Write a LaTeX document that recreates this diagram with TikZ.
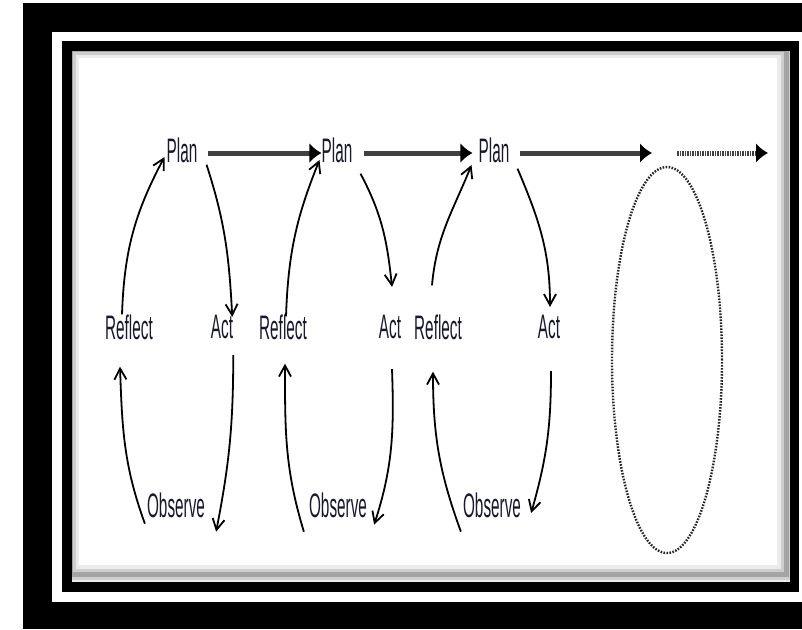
\documentclass[tikz,border=0pt]{standalone}
\usepackage{fontspec}
\usepackage{tikz}
\usetikzlibrary{arrows.meta, positioning}
\newfontfamily\labelfont[FakeStretch=0.45]{Liberation Sans}
\definecolor{ink}{RGB}{25,25,45}

\begin{document}
\begin{tikzpicture}[
    x=1pt, y=1pt, on grid,
    stage/.style={inner sep=0pt, text=ink, font=\labelfont\fontsize{34}{34}\selectfont},
    cyclearrow/.style={-{Straight Barb[length=11pt, width=12pt]}, line width=1.8pt},
    flowarrow/.style={-{Latex[length=12pt, width=20pt, color=black]}, line width=5pt, draw=black!75},
    dotflow/.style={flowarrow, dash pattern=on 1.5pt off 1pt},
    frontier/.style={draw=black!85, line width=2.4pt, dash pattern=on 1.6pt off 1.4pt}
]
\useasboundingbox (0,0) rectangle (802,-629);

% Frame
\fill[black] (23,-3) rectangle (802,-629);
\fill[white] (52,-32) rectangle (802,-602);
\fill[black] (62,-41) rectangle (799,-592);
\fill[white] (72,-51) rectangle (790,-582);
\begin{scope}
    \clip (72,-51) rectangle (790,-582);
    \draw[black, opacity=0.08, line width=18pt] (70,-49) rectangle (786,-574);
    \draw[black, opacity=0.12, line width=11pt] (70,-49) rectangle (786,-574);
    \draw[black, opacity=0.2, line width=5pt] (70,-49) rectangle (786,-574);
\end{scope}

% Nodes
\node[stage] (plan1) at (182,-150) {Plan};
\node[stage, right=155pt of plan1] (plan2) {Plan};
\node[stage, right=157pt of plan2] (plan3) {Plan};
\node[stage, below left=177pt and 53pt of plan1] (refl1) {Reflect};
\node[stage, below left=177pt and 54pt of plan2] (refl2) {Reflect};
\node[stage, below left=177pt and 56pt of plan3] (refl3) {Reflect};
\node[stage, below right=177pt and 40pt of plan1] (act1) {Act};
\node[stage, below right=177pt and 53pt of plan2] (act2) {Act};
\node[stage, below right=177pt and 55pt of plan3] (act3) {Act};
\node[stage, below left=355pt and 6pt of plan1] (obs1) {Observe};
\node[stage, below right=355pt and 1pt of plan2] (obs2) {Observe};
\node[stage, below left=355pt and 2pt of plan3] (obs3) {Observe};
\coordinate (gap) at (652,-153);
\coordinate (beyond) at (677,-153);
\coordinate (edge) at (768,-153);

% Arrows
\draw[flowarrow] ([xshift=10pt, yshift=-3pt]plan1.east) -- ([yshift=-3pt]plan2.west);
\draw[flowarrow] ([xshift=11pt, yshift=-3pt]plan2.east) -- ([xshift=-6pt, yshift=-3pt]plan3.west);
\draw[flowarrow] ([xshift=10pt, yshift=-3pt]plan3.east) -- (gap);
\draw[dotflow] (beyond) -- (edge);

\draw[cyclearrow] ([xshift=-7pt]refl1.north) to[out=88, in=242] ([xshift=-2pt, yshift=-7pt]plan1.west);
\draw[cyclearrow] ([xshift=9pt, yshift=-2pt]plan1.south east) to[out=-72, in=93] ([xshift=-1pt, yshift=-2pt]act1.north east);
\draw[cyclearrow] ([yshift=-16pt]act1.south east) to[out=-90, in=79] ([xshift=11pt, yshift=-14pt]obs1.south east);
\draw[cyclearrow] ([xshift=-2pt, yshift=-6pt]obs1.south west) to[out=110, in=-88] ([xshift=-9pt, yshift=-27pt]refl1.south);

\draw[cyclearrow] ([xshift=3pt, yshift=-2pt]refl2.north) to[out=88, in=248] ([xshift=-2pt, yshift=-10pt]plan2.west);
\draw[cyclearrow] ([xshift=8pt, yshift=-11pt]plan2.south east) to[out=-62, in=96] ([xshift=2pt, yshift=28pt]act2.north);
\draw[cyclearrow] ([xshift=2pt, yshift=-30pt]act2.south) to[out=-88, in=72] ([xshift=7pt, yshift=-7pt]obs2.south east);
\draw[cyclearrow] ([xshift=-5pt, yshift=-14pt]obs2.south west) to[out=107, in=-90] ([xshift=2pt, yshift=-24pt]refl2.south);

\draw[cyclearrow] ([xshift=-6pt, yshift=29pt]refl3.north) to[out=85, in=248] ([xshift=-7pt, yshift=-15pt]plan3.west);
\draw[cyclearrow] ([xshift=8pt, yshift=-6pt]plan3.south east) to[out=-67, in=90] ([xshift=1pt, yshift=8pt]act3.north);
\draw[cyclearrow] ([xshift=2pt, yshift=-32pt]act3.south) to[out=-90, in=74] ([xshift=10pt, yshift=-8pt]obs3.east);
\draw[cyclearrow] ([xshift=-2pt, yshift=-14pt]obs3.south west) to[out=110, in=-90] ([xshift=-5pt, yshift=-32pt]refl3.south);

% Next cycle
\draw[frontier] (667,-360) ellipse [x radius=55, y radius=193];

\end{tikzpicture}
\end{document}
